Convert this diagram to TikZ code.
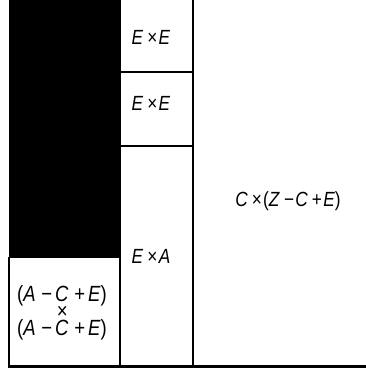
\documentclass[tikz,border=0pt]{standalone}
\usepackage{fontspec}
\setmainfont{Liberation Sans}
\newfontfamily\cellfont{Liberation Sans}[FakeStretch=0.84]
\usepackage{tikz}
\usetikzlibrary{positioning}

\newcommand{\op}[1]{\hspace{0.2em}#1\hspace{0.06em}}
\newcommand{\opw}[1]{\hspace{0.26em}#1\hspace{0.14em}}
\newcommand{\vr}[1]{\textit{#1}}

\tikzset{
  cell/.style = {draw = none, font = \cellfont\fontsize{20.5}{16.5}\selectfont, align = center, inner sep = 0pt},
  wall/.style = {line width = 2pt}
}

\begin{document}
\begin{tikzpicture}[x = 1pt, y = -1pt]
\useasboundingbox (0,0) rectangle (366,370);
\fill[black] (9,0) rectangle (120,257);
\draw[wall] (9,257) -- (9,366);
\draw[wall] (9,257) -- (120,257);
\draw[wall] (120,0) -- (120,366);
\draw[wall] (193,0) -- (193,366);
\draw[wall] (120,72) -- (193,72);
\draw[wall] (120,146) -- (193,146);
\draw[line width = 3pt] (8,366) -- (366,366);
\node[cell] (ee1) at (151,37)  {\vr{E}\op{×}\vr{E}};
\node[cell] (ee2) at (151,103) {\vr{E}\op{×}\vr{E}};
\node[cell] (ea)  at (151,256) {\vr{E}\op{×}\vr{A}};
\node[cell] (cz)  at (288,201) {\vr{C}\op{×}(\vr{Z}\op{−}\vr{C}\op{+}\vr{E})};
\node[cell, font = \cellfont\fontsize{22}{17}\selectfont] (ac) at (62,313)
  {(\vr{A}\opw{−}\vr{C}\opw{+}\vr{E})\\ \vr{×}\\ (\vr{A}\opw{−}\vr{C}\opw{+}\vr{E})};
\end{tikzpicture}
\end{document}
